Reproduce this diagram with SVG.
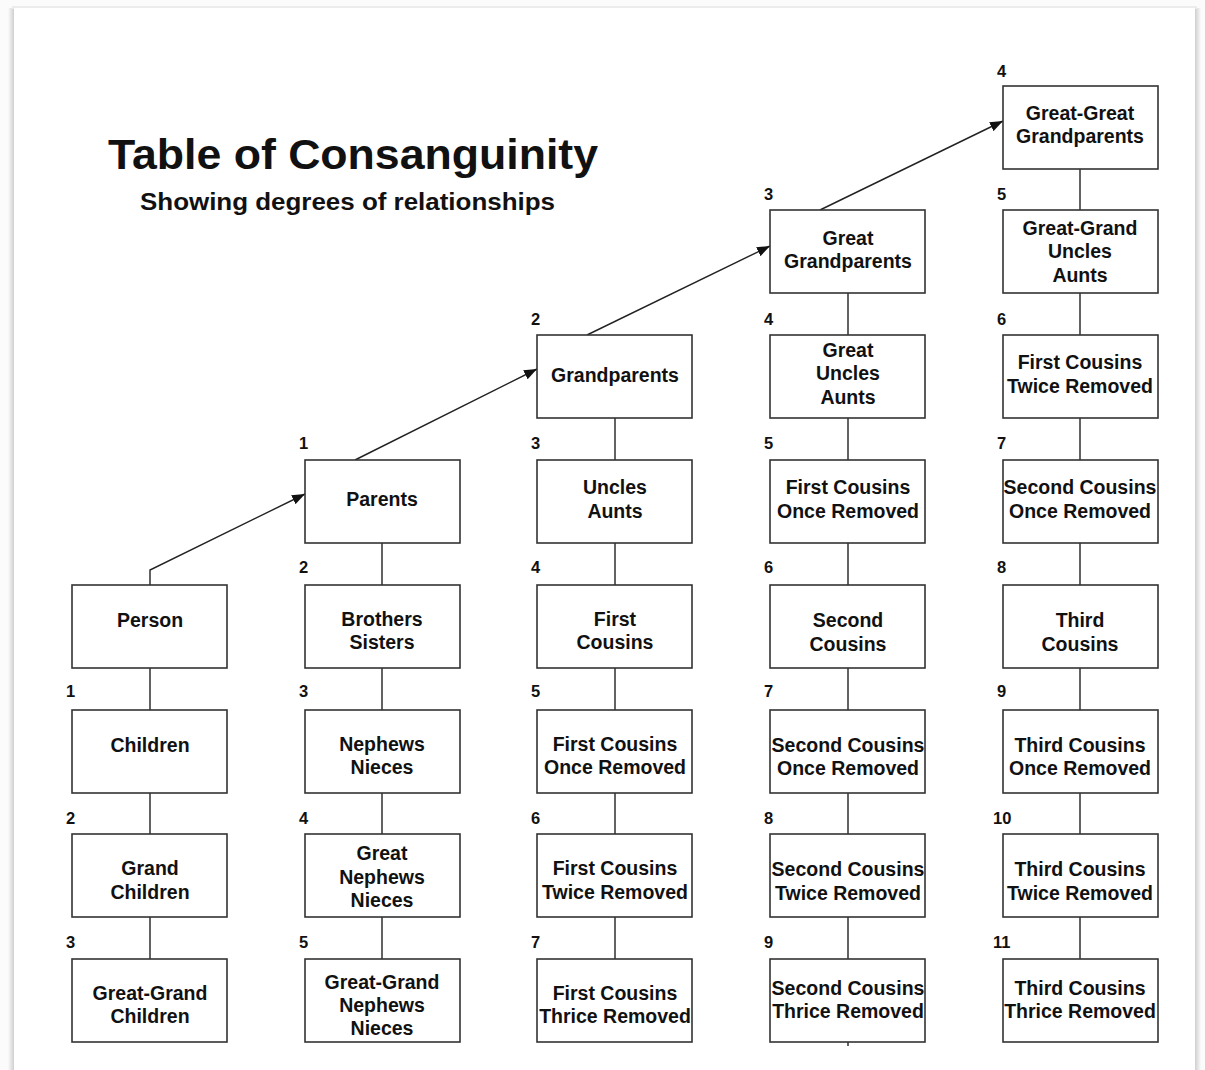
<svg xmlns="http://www.w3.org/2000/svg" width="1205" height="1070" viewBox="0 0 1205 1070">
<style>
.box{fill:#fff;stroke:#333;stroke-width:1.6}
.t{font-family:"Liberation Sans",Arial,sans-serif;font-weight:bold;font-size:19.5px;fill:#111;text-anchor:middle}
.n{font-family:"Liberation Sans",Arial,sans-serif;font-weight:bold;font-size:16.5px;fill:#111}
.c{stroke:#222;stroke-width:1.4;fill:none}
</style>
<defs>
<marker id="ah" viewBox="0 0 13 10" refX="13" refY="5" markerWidth="13" markerHeight="10" markerUnits="userSpaceOnUse" orient="auto">
<path d="M0,0 L13,5 L0,10 Z" fill="#111"/>
</marker>
<linearGradient id="shl" x1="0" x2="1" y1="0" y2="0">
<stop offset="0" stop-color="#fbfbfb"/><stop offset="1" stop-color="#cfcfcf"/>
</linearGradient>
<linearGradient id="shr" x1="0" x2="1" y1="0" y2="0">
<stop offset="0" stop-color="#cfcfcf"/><stop offset="1" stop-color="#fbfbfb"/>
</linearGradient>
</defs>
<rect x="0" y="0" width="1205" height="1070" fill="#fbfbfb"/>
<rect x="8" y="8" width="6" height="1062" fill="url(#shl)"/>
<rect x="1195" y="8" width="6" height="1062" fill="url(#shr)"/>
<rect x="12" y="6" width="1185" height="3" fill="#ececec"/>
<rect x="14" y="8" width="1181" height="1070" fill="#fff"/>

<g id="title">
<text x="108" y="169" font-family="'Liberation Sans',Arial,sans-serif" font-weight="bold" font-size="43" textLength="490" lengthAdjust="spacingAndGlyphs" fill="#111">Table of Consanguinity</text>
<text x="140" y="210" font-family="'Liberation Sans',Arial,sans-serif" font-weight="bold" font-size="23" textLength="415" lengthAdjust="spacingAndGlyphs" fill="#111">Showing degrees of relationships</text>
</g>

<g id="connectors">
<path class="c" d="M150,585 V570 L305,494" marker-end="url(#ah)"/>
<path class="c" d="M355,460 L537,369" marker-end="url(#ah)"/>
<path class="c" d="M587,335 L770,246" marker-end="url(#ah)"/>
<path class="c" d="M820,210 L1003,121" marker-end="url(#ah)"/>
<path class="c" d="M150,668 V710 M150,793 V834 M150,917 V959"/>
<path class="c" d="M382,543 V585 M382,668 V710 M382,793 V834 M382,917 V959"/>
<path class="c" d="M615,418 V460 M615,543 V585 M615,668 V710 M615,793 V834 M615,917 V959"/>
<path class="c" d="M848,293 V335 M848,418 V460 M848,543 V585 M848,668 V710 M848,793 V834 M848,917 V959 M848,1042 V1046"/>
<path class="c" d="M1080,169 V210 M1080,293 V335 M1080,418 V460 M1080,543 V585 M1080,668 V710 M1080,793 V834 M1080,917 V959"/>
</g>

<!-- Column 0 -->
<g id="person"><rect class="box" x="72" y="585" width="155" height="83"/><text class="t" x="150" y="627">Person</text></g>
<g id="children"><text class="n" x="66" y="697">1</text><rect class="box" x="72" y="710" width="155" height="83"/><text class="t" x="150" y="752">Children</text></g>
<g id="grandchildren"><text class="n" x="66" y="824">2</text><rect class="box" x="72" y="834" width="155" height="83"/><text class="t" x="150" y="875">Grand</text><text class="t" x="150" y="899">Children</text></g>
<g id="greatgrandchildren"><text class="n" x="66" y="948">3</text><rect class="box" x="72" y="959" width="155" height="83"/><text class="t" x="150" y="1000">Great-Grand</text><text class="t" x="150" y="1023">Children</text></g>

<!-- Column 1 -->
<g id="parents"><text class="n" x="299" y="449">1</text><rect class="box" x="305" y="460" width="155" height="83"/><text class="t" x="382" y="506">Parents</text></g>
<g id="siblings"><text class="n" x="299" y="573">2</text><rect class="box" x="305" y="585" width="155" height="83"/><text class="t" x="382" y="626">Brothers</text><text class="t" x="382" y="649">Sisters</text></g>
<g id="nephews"><text class="n" x="299" y="697">3</text><rect class="box" x="305" y="710" width="155" height="83"/><text class="t" x="382" y="751">Nephews</text><text class="t" x="382" y="774">Nieces</text></g>
<g id="greatnephews"><text class="n" x="299" y="824">4</text><rect class="box" x="305" y="834" width="155" height="83"/><text class="t" x="382" y="860">Great</text><text class="t" x="382" y="884">Nephews</text><text class="t" x="382" y="907">Nieces</text></g>
<g id="greatgrandnephews"><text class="n" x="299" y="948">5</text><rect class="box" x="305" y="959" width="155" height="83"/><text class="t" x="382" y="989">Great-Grand</text><text class="t" x="382" y="1012">Nephews</text><text class="t" x="382" y="1035">Nieces</text></g>

<!-- Column 2 -->
<g id="grandparents"><text class="n" x="531" y="325">2</text><rect class="box" x="537" y="335" width="155" height="83"/><text class="t" x="615" y="382">Grandparents</text></g>
<g id="uncles"><text class="n" x="531" y="449">3</text><rect class="box" x="537" y="460" width="155" height="83"/><text class="t" x="615" y="494">Uncles</text><text class="t" x="615" y="518">Aunts</text></g>
<g id="firstcousins"><text class="n" x="531" y="573">4</text><rect class="box" x="537" y="585" width="155" height="83"/><text class="t" x="615" y="626">First</text><text class="t" x="615" y="649">Cousins</text></g>
<g id="fc1r"><text class="n" x="531" y="697">5</text><rect class="box" x="537" y="710" width="155" height="83"/><text class="t" x="615" y="751">First Cousins</text><text class="t" x="615" y="774">Once Removed</text></g>
<g id="fc2r"><text class="n" x="531" y="824">6</text><rect class="box" x="537" y="834" width="155" height="83"/><text class="t" x="615" y="875">First Cousins</text><text class="t" x="615" y="899">Twice Removed</text></g>
<g id="fc3r"><text class="n" x="531" y="948">7</text><rect class="box" x="537" y="959" width="155" height="83"/><text class="t" x="615" y="1000">First Cousins</text><text class="t" x="615" y="1023">Thrice Removed</text></g>

<!-- Column 3 -->
<g id="greatgrandparents"><text class="n" x="764" y="200">3</text><rect class="box" x="770" y="210" width="155" height="83"/><text class="t" x="848" y="245">Great</text><text class="t" x="848" y="268">Grandparents</text></g>
<g id="greatuncles"><text class="n" x="764" y="325">4</text><rect class="box" x="770" y="335" width="155" height="83"/><text class="t" x="848" y="357">Great</text><text class="t" x="848" y="380">Uncles</text><text class="t" x="848" y="404">Aunts</text></g>
<g id="c3fc1r"><text class="n" x="764" y="449">5</text><rect class="box" x="770" y="460" width="155" height="83"/><text class="t" x="848" y="494">First Cousins</text><text class="t" x="848" y="518">Once Removed</text></g>
<g id="secondcousins"><text class="n" x="764" y="573">6</text><rect class="box" x="770" y="585" width="155" height="83"/><text class="t" x="848" y="627">Second</text><text class="t" x="848" y="651">Cousins</text></g>
<g id="sc1r"><text class="n" x="764" y="697">7</text><rect class="box" x="770" y="710" width="155" height="83"/><text class="t" x="848" y="752">Second Cousins</text><text class="t" x="848" y="775">Once Removed</text></g>
<g id="sc2r"><text class="n" x="764" y="824">8</text><rect class="box" x="770" y="834" width="155" height="83"/><text class="t" x="848" y="876">Second Cousins</text><text class="t" x="848" y="900">Twice Removed</text></g>
<g id="sc3r"><text class="n" x="764" y="948">9</text><rect class="box" x="770" y="959" width="155" height="83"/><text class="t" x="848" y="995">Second Cousins</text><text class="t" x="848" y="1018">Thrice Removed</text></g>

<!-- Column 4 -->
<g id="greatgreatgrandparents"><text class="n" x="997" y="77">4</text><rect class="box" x="1003" y="86" width="155" height="83"/><text class="t" x="1080" y="120">Great-Great</text><text class="t" x="1080" y="143">Grandparents</text></g>
<g id="greatgranduncles"><text class="n" x="997" y="200">5</text><rect class="box" x="1003" y="210" width="155" height="83"/><text class="t" x="1080" y="235">Great-Grand</text><text class="t" x="1080" y="258">Uncles</text><text class="t" x="1080" y="282">Aunts</text></g>
<g id="c4fc2r"><text class="n" x="997" y="325">6</text><rect class="box" x="1003" y="335" width="155" height="83"/><text class="t" x="1080" y="369">First Cousins</text><text class="t" x="1080" y="393">Twice Removed</text></g>
<g id="c4sc1r"><text class="n" x="997" y="449">7</text><rect class="box" x="1003" y="460" width="155" height="83"/><text class="t" x="1080" y="494">Second Cousins</text><text class="t" x="1080" y="518">Once Removed</text></g>
<g id="thirdcousins"><text class="n" x="997" y="573">8</text><rect class="box" x="1003" y="585" width="155" height="83"/><text class="t" x="1080" y="627">Third</text><text class="t" x="1080" y="651">Cousins</text></g>
<g id="tc1r"><text class="n" x="997" y="697">9</text><rect class="box" x="1003" y="710" width="155" height="83"/><text class="t" x="1080" y="752">Third Cousins</text><text class="t" x="1080" y="775">Once Removed</text></g>
<g id="tc2r"><text class="n" x="993" y="824">10</text><rect class="box" x="1003" y="834" width="155" height="83"/><text class="t" x="1080" y="876">Third Cousins</text><text class="t" x="1080" y="900">Twice Removed</text></g>
<g id="tc3r"><text class="n" x="993" y="948">11</text><rect class="box" x="1003" y="959" width="155" height="83"/><text class="t" x="1080" y="995">Third Cousins</text><text class="t" x="1080" y="1018">Thrice Removed</text></g>
</svg>
